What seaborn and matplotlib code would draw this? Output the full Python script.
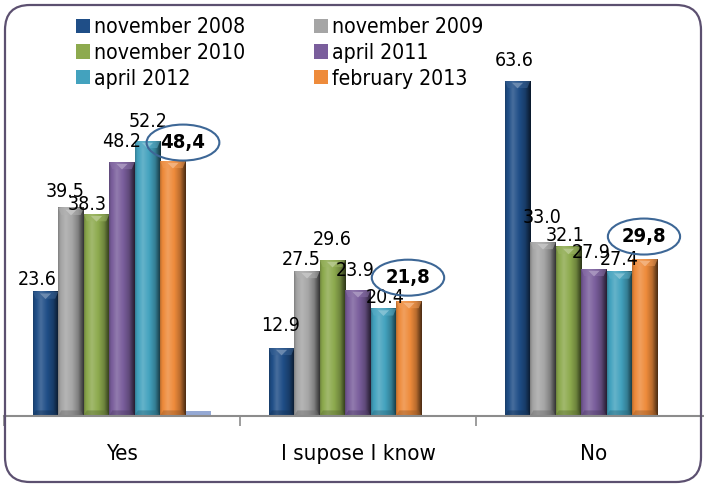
import numpy as np
import pandas as pd
import matplotlib
matplotlib.use("Agg")
import matplotlib.pyplot as plt
import seaborn as sns
from matplotlib.patches import FancyBboxPatch, Patch, Polygon
from matplotlib.transforms import IdentityTransform
from matplotlib import font_manager as fm
from matplotlib.colors import to_rgb

# ---- data -------------------------------------------------------------
categories = ["Yes", "I supose I know", "No"]
series = ["november 2008", "november 2009", "november 2010",
          "april 2011", "april 2012", "february 2013"]
nov_2008 = [23.6, 12.9, 63.6]
nov_2009 = [39.5, 27.5, 33.0]
nov_2010 = [38.3, 29.6, 32.1]
apr_2011 = [48.2, 23.9, 27.9]
apr_2012 = [52.2, 20.4, 27.4]
feb_2013 = [48.4, 21.8, 29.8]
extra = [1.0, 0.0, 0.0]          # unlabelled seventh series (no legend entry)
extra_name = "other"

colors = ["#1F4E87", "#A5A5A5", "#8DAA4E", "#7A5E9C", "#43A2BE", "#EE8B3B", "#95A9D4"]

# label nudges in pixels (dx, dy above bar top), per category row / series column
label_nudge = [
    [(-8, 7), (-6, 11), (-9, 4), (0, 15), (1, 14), (10, 13)],
    [(-1, 17), (-6, 6), (0, 15), (-3, 14), (2, 6), (-1, 18)],
    [(-3, 15), (-1, 19), (-3, 6), (-3, 11), (0, 7), (-1, 17)],
]

# ---- fonts ------------------------------------------------------------
sns.set_theme(style="white")
stretch = "normal"
for f in fm.fontManager.ttflist:
    if f.name == "DejaVu Sans" and f.stretch not in ("normal", 500) and f.weight in ("normal", 400):
        stretch = f.stretch
        break
if stretch != "normal":
    family, fs, fs_leg, fs_cat = "DejaVu Sans", 14, 15.2, 16
else:
    names = {f.name for f in fm.fontManager.ttflist}
    if "Liberation Sans Narrow" in names:
        family, fs, fs_leg, fs_cat = "Liberation Sans Narrow", 15, 16, 17
    else:
        family, fs, fs_leg, fs_cat = "DejaVu Sans", 13, 14, 15
plt.rcParams["font.family"] = [family]
plt.rcParams["font.stretch"] = stretch
plt.rcParams["text.color"] = "black"
plt.rcParams["xtick.color"] = "black"

# ---- table ------------------------------------------------------------
values = [nov_2008, nov_2009, nov_2010, apr_2011, apr_2012, feb_2013, extra]
hue_order = series + [extra_name]
rows = []
for s, vals in zip(hue_order, values):
    for c, v in zip(categories, vals):
        rows.append({"category": c, "series": s, "value": v})
df = pd.DataFrame(rows)

W, H = 704, 484
fig = plt.figure(figsize=(W / 100, H / 100), dpi=100)
fig.patch.set_facecolor("white")

px_per_unit = 5.267
ymax = 70
ax_h = ymax * px_per_unit
ax = fig.add_axes([4 / W, 68 / H, 708 / W, ax_h / H])

sns.barplot(data=df, x="category", y="value", hue="series", order=categories,
            hue_order=hue_order, palette=colors, width=0.756, gap=0,
            saturation=1, linewidth=0, edgecolor="none", legend=False, ax=ax)


def shade(rgb, f):
    rgb = np.asarray(rgb, float)
    if f >= 1:
        return np.clip(rgb + (1 - rgb) * (f - 1), 0, 1)
    return np.clip(rgb * f, 0, 1)


# horizontal lighting profile across each column
prof_x = np.array([0.0, 0.07, 0.3, 0.55, 0.78, 0.9, 1.0])
prof_f = np.array([0.78, 0.95, 1.18, 1.0, 0.78, 0.52, 0.32])
xs = np.linspace(0, 1, 60)
fx = np.interp(xs, prof_x, prof_f)
bevel = 7 / px_per_unit

for si, cont in enumerate(ax.containers):
    base = to_rgb(colors[si])
    for bar in cont:
        h = bar.get_height()
        if not np.isfinite(h) or h <= 0:
            continue
        x0, w = bar.get_x(), bar.get_width()
        x1 = x0 + w
        if si == len(series):
            continue
        img = np.array([[shade(base, f) for f in fx]])
        ax.imshow(img, extent=[x0, x1, 0, h], aspect="auto",
                  interpolation="bilinear", zorder=2.2)
        # top bevel and highlight notch
        ax.add_patch(Polygon([(x0, h), (x1, h), (x1 - 0.12 * w, h - bevel),
                              (x0 + 0.12 * w, h - bevel)], closed=True,
                             fc=shade(base, 1.12), ec="none", alpha=0.55, zorder=2.3))
        ax.add_patch(Polygon([(x0 + 0.28 * w, h - 0.25 * bevel), (x0 + 0.72 * w, h - 0.25 * bevel),
                              (x0 + 0.5 * w, h - 1.05 * bevel)], closed=True,
                             fc=shade(base, 1.4), ec="none", alpha=0.8, zorder=2.4))
        # bottom bevel
        ax.add_patch(Polygon([(x0, 0), (x1, 0), (x1 - 0.12 * w, bevel * 0.8),
                              (x0 + 0.12 * w, bevel * 0.8)], closed=True,
                             fc=shade(base, 0.65), ec="none", alpha=0.45, zorder=2.3))

ax.set_xlim(-0.5, 2.5)
ax.set_ylim(0, ymax)

# value labels
for si in range(len(series)):
    cont = ax.containers[si]
    for ci, bar in enumerate(cont):
        v = values[si][ci]
        cx = bar.get_x() + bar.get_width() / 2
        dx, dy = label_nudge[ci][si]
        if si == len(series) - 1:
            ax.annotate(f"{v:.1f}".replace(".", ","), xy=(cx, v), xytext=(dx, dy),
                        textcoords="offset pixels", ha="center", va="baseline",
                        fontsize=fs + 0.5, fontweight="bold", color="black", zorder=6,
                        bbox=dict(boxstyle="ellipse,pad=0.16", fc="none",
                                  ec="#3D6796", lw=1.5))
        else:
            ax.annotate(f"{v:.1f}", xy=(cx, v), xytext=(dx, dy),
                        textcoords="offset pixels", ha="center", va="baseline",
                        fontsize=fs, color="black", zorder=6)

# axes styling
for side in ("left", "right", "top"):
    ax.spines[side].set_visible(False)
ax.spines["bottom"].set_color("#8C8C8C")
ax.spines["bottom"].set_linewidth(1.5)
ax.set_yticks([])
ax.set_xlabel("")
ax.set_ylabel("")
ax.set_xticks(range(len(categories)))
ax.set_xticklabels(categories, fontsize=fs_cat, color="black")
ax.set_xticks([-0.5, 0.5, 1.5, 2.5], minor=True)
ax.tick_params(axis="x", which="major", length=0, pad=20)
ax.tick_params(axis="x", which="minor", length=7, width=1.2, color="#8C8C8C",
               direction="out", bottom=True)
ax.set_facecolor("none")

# legend in two columns
handles = [Patch(facecolor=c, edgecolor="none") for c in colors[:6]]
leg_kw = dict(loc="upper left", frameon=False, fontsize=fs_leg, borderpad=0,
              handlelength=0.65, handleheight=0.65, handletextpad=0.2,
              labelspacing=0.28, borderaxespad=0, labelcolor="black")
fig.legend([handles[i] for i in (0, 2, 4)], [series[i] for i in (0, 2, 4)],
           bbox_to_anchor=(76 / W, 1 - 17 / H), **leg_kw)
fig.legend([handles[i] for i in (1, 3, 5)], [series[i] for i in (1, 3, 5)],
           bbox_to_anchor=(314 / W, 1 - 17 / H), **leg_kw)

# rounded frame around the whole chart
frame = FancyBboxPatch((5, 2), 696, 477, boxstyle="round,pad=0,rounding_size=25",
                       transform=IdentityTransform(), fill=False,
                       ec="#5C5070", lw=1.6, zorder=10)
fig.patches.append(frame)

fig.savefig("out.png", dpi=100)
